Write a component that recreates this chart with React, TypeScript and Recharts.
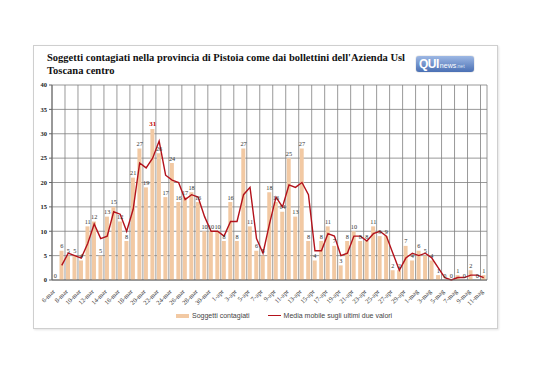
import React from 'react';
import { ComposedChart, Bar, Line, XAxis, YAxis, CartesianGrid, LabelList } from 'recharts';

// giorni dal 6 marzo all'11 maggio
const DAYS = [
  '6-mar', '7-mar', '8-mar', '9-mar', '10-mar', '11-mar', '12-mar', '13-mar', '14-mar', '15-mar',
  '16-mar', '17-mar', '18-mar', '19-mar', '20-mar', '21-mar', '22-mar', '23-mar', '24-mar', '25-mar',
  '26-mar', '27-mar', '28-mar', '29-mar', '30-mar', '31-mar',
  '1-apr', '2-apr', '3-apr', '4-apr', '5-apr', '6-apr', '7-apr', '8-apr', '9-apr', '10-apr',
  '11-apr', '12-apr', '13-apr', '14-apr', '15-apr', '16-apr', '17-apr', '18-apr', '19-apr', '20-apr',
  '21-apr', '22-apr', '23-apr', '24-apr', '25-apr', '26-apr', '27-apr', '28-apr', '29-apr', '30-apr',
  '1-mag', '2-mag', '3-mag', '4-mag', '5-mag', '6-mag', '7-mag', '8-mag', '9-mag', '10-mag', '11-mag',
];

const CONTAGIATI = [
  0, 6, 5, 5, 4, 11, 12, 5, 13, 15, 12, 8, 21, 27, 19, 31, 26, 17, 24, 16, 17, 18, 16, 10, 10, 10,
  8, 16, 8, 27, 11, 6, 5, 18, 16, 14, 25, 13, 27, 8, 4, 8, 11, 7, 3, 8, 10, 8, 8, 11, 9, 9, 2, 2, 7, 4,
  6, 5, 4, 1, 0, 0, 1, 0, 2, 0, 1,
];

// media mobile sugli ultimi due valori
const MEDIA_MOBILE = [
  null, 3, 5.5, 5, 4.5, 7.5, 11.5, 8.5, 9, 14, 13.5, 10, 14.5, 24, 23, 25, 28.5, 21.5, 20.5, 20, 16.5, 17.5, 17, 13, 10, 10,
  9, 12, 12, 17.5, 19, 8.5, 5.5, 11.5, 17, 15, 19.5, 19, 20, 17.5, 6, 6, 9.5, 9, 5, 5.5, 9, 9, 8, 9.5, 10, 9, 5.5, 2, 4.5, 5.5,
  5, 5.5, 4.5, 2.5, 0.5, 0, 0.5, 0.5, 1, 1, 0.5,
];

const Y_TICKS = [0, 5, 10, 15, 20, 25, 30, 35, 40];

const BAR_COLOR = '#f2c9a3';
const LINE_COLOR = '#b3121b';
const SERIF = '"Liberation Serif", "DejaVu Serif", serif';
const SANS = '"Liberation Sans", "Open Sans", sans-serif';

const data = DAYS.map((day, i) => ({ day, contagiati: CONTAGIATI[i], media: MEDIA_MOBILE[i] }));
const maxValue = Math.max(...CONTAGIATI);

// etichette sopra le barre (anche per gli zeri), il massimo in rosso
const BarValueLabel = (props: any) => {
  const { x, y, value } = props;
  if (value == null) return null;
  const isMax = value === maxValue;
  return (
    <text
      x={x}
      y={y - 2.5}
      textAnchor="middle"
      fontFamily={SERIF}
      fontSize={isMax ? 7 : 6.3}
      fontWeight={isMax ? 700 : 400}
      fill={isMax ? '#c00000' : '#333'}
    >
      {value}
    </text>
  );
};

const DayTick = (props: any) => {
  const { x, y, payload } = props;
  return (
    <text
      x={x}
      y={y + 4}
      textAnchor="end"
      transform={`rotate(-45, ${x}, ${y + 4})`}
      fontFamily={SERIF}
      fontSize={6.5}
      fill="#333"
    >
      {payload.value}
    </text>
  );
};

// griglia verticale ogni due giorni, sui bordi delle categorie come in Excel
const verticalLines = ({ offset }: any) => {
  const step = offset.width / DAYS.length;
  const pts: number[] = [];
  for (let i = 0; i < DAYS.length; i += 2) pts.push(offset.left + i * step);
  pts.push(offset.left + offset.width);
  return pts;
};

const Logo = () => (
  <div
    style={{
      position: 'absolute', left: 416, top: 56, width: 58, height: 16, borderRadius: 3,
      background: 'linear-gradient(#9db8e4, #4a70b4)', boxShadow: '0 0 1px #666',
      display: 'flex', alignItems: 'center', paddingLeft: 3, boxSizing: 'border-box',
      fontFamily: SANS, color: '#fff',
    }}
  >
    <span style={{ fontSize: 12, fontWeight: 700, letterSpacing: -0.5 }}>QUI</span>
    <span style={{ fontSize: 7, marginLeft: 1, marginTop: 2 }}>news</span>
    <span style={{ fontSize: 5, marginTop: 3, color: '#dde6f5' }}>.net</span>
  </div>
);

export default function App() {
  return (
    <div style={{ position: 'fixed', left: 0, top: 0, width: 538, height: 380, background: '#fff' }}>
      <div
        style={{
          position: 'absolute', left: 33, top: 45, width: 463, height: 282,
          border: '1px solid #cfcfcf', boxShadow: '1px 1px 2px #e4e4e4',
        }}
      />
      <div
        style={{
          position: 'absolute', left: 47, top: 51, width: 370,
          fontFamily: SERIF, fontWeight: 700, fontSize: 10.5, lineHeight: '13px', color: '#111',
        }}
      >
        Soggetti contagiati nella provincia di Pistoia come dai bollettini dell'Azienda Usl Toscana centro
      </div>
      <Logo />
      <div style={{ position: 'absolute', left: 0, top: 0 }}>
        <ComposedChart width={538} height={380} data={data} margin={{ top: 85, right: 51, bottom: 70, left: 30 }}>
          <CartesianGrid stroke="#7f7f7f" strokeWidth={0.8} verticalCoordinatesGenerator={verticalLines} />
          <XAxis
            dataKey="day"
            interval={1}
            height={30}
            tickLine={false}
            axisLine={{ stroke: '#666' }}
            tick={<DayTick />}
          />
          <YAxis
            domain={[0, 40]}
            ticks={Y_TICKS}
            width={22}
            tickSize={3}
            tickMargin={2}
            axisLine={{ stroke: '#666' }}
            tickLine={{ stroke: '#666' }}
            tick={{ fontFamily: SERIF, fontSize: 6.5, fontWeight: 700, fill: '#222' }}
          />
          <Bar dataKey="contagiati" fill={BAR_COLOR} barSize={4} isAnimationActive={false} />
          {/* serie invisibile che porta solo le etichette dei valori */}
          <Line
            dataKey="contagiati"
            stroke="none"
            dot={false}
            activeDot={false}
            legendType="none"
            isAnimationActive={false}
          >
            <LabelList dataKey="contagiati" content={<BarValueLabel />} />
          </Line>
          <Line
            type="linear"
            dataKey="media"
            stroke={LINE_COLOR}
            strokeWidth={1.4}
            dot={false}
            activeDot={false}
            connectNulls
            isAnimationActive={false}
          />
        </ComposedChart>
      </div>
      <div
        style={{
          position: 'absolute', left: 176, top: 312, display: 'flex', alignItems: 'center',
          fontFamily: SANS, fontSize: 7, color: '#444',
        }}
      >
        <span style={{ display: 'inline-block', width: 13, height: 4, background: BAR_COLOR, marginRight: 3 }} />
        <span>Soggetti contagiati</span>
        <span style={{ display: 'inline-block', width: 13, height: 1.5, background: LINE_COLOR, marginLeft: 18, marginRight: 3 }} />
        <span>Media mobile sugli ultimi due valori</span>
      </div>
    </div>
  );
}
